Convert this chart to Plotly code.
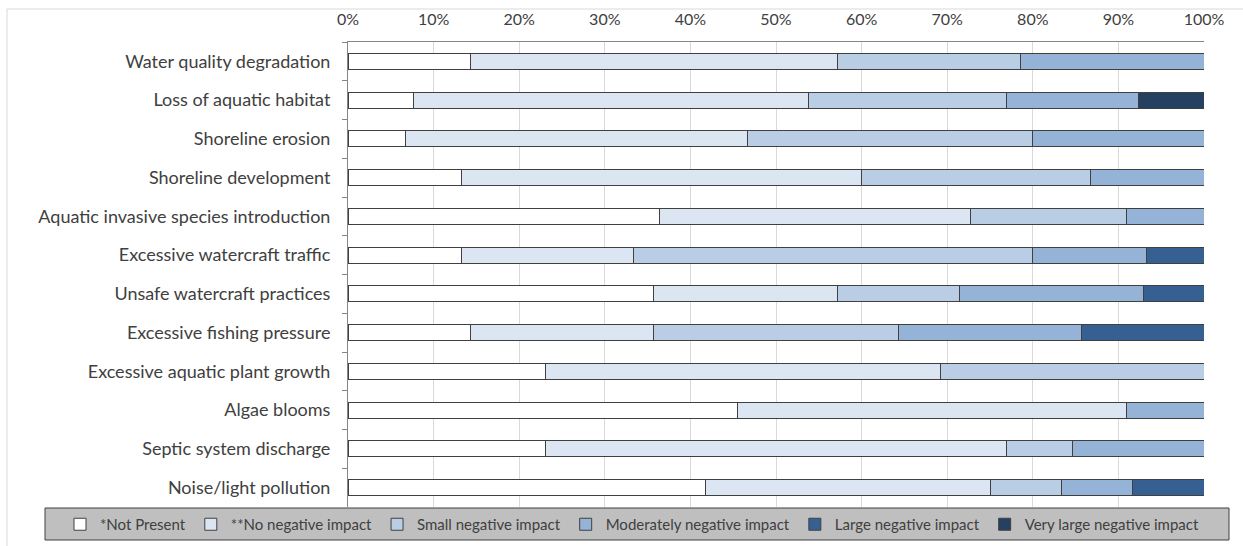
import plotly.graph_objects as go

categories = [
    "Water quality degradation",
    "Loss of aquatic habitat",
    "Shoreline erosion",
    "Shoreline development",
    "Aquatic invasive species introduction",
    "Excessive watercraft traffic",
    "Unsafe watercraft practices",
    "Excessive fishing pressure",
    "Excessive aquatic plant growth",
    "Algae blooms",
    "Septic system discharge",
    "Noise/light pollution",
]

not_present = [14.3, 7.7, 6.7, 13.3, 36.4, 13.3, 35.7, 14.3, 23.1, 45.5, 23.1, 41.7]
no_negative = [42.9, 46.2, 40.0, 46.7, 36.4, 20.0, 21.4, 21.4, 46.2, 45.5, 53.8, 33.3]
small_negative = [21.4, 23.1, 33.3, 26.7, 18.2, 46.7, 14.3, 28.6, 30.8, 0, 7.7, 8.3]
moderate_negative = [21.4, 15.4, 20.0, 13.3, 9.1, 13.3, 21.4, 21.4, 0, 9.1, 15.4, 8.3]
large_negative = [0, 0, 0, 0, 0, 6.7, 7.1, 14.3, 0, 0, 0, 8.3]
very_large_negative = [0, 7.7, 0, 0, 0, 0, 0, 0, 0, 0, 0, 0]

series_names = [
    "*Not Present",
    "**No negative impact",
    "Small negative impact",
    "Moderately negative impact",
    "Large negative impact",
    "Very large negative impact",
]
series_values = [not_present, no_negative, small_negative, moderate_negative,
                 large_negative, very_large_negative]
series_colors = ["#FFFFFF", "#DCE6F2", "#B9CDE5", "#95B3D7", "#366092", "#254061"]

FONT = "Lato"
TXT = "#404040"

# plot-area geometry (pixels) used to place decorative frame / legend box
L, R, T, B = 348, 1204, 42, 507
PW, PH = R - L, B - T

def px_x(v):
    return (v - L) / PW

def px_y(v):
    return (B - v) / PH

fig = go.Figure()
for name, vals, col in zip(series_names, series_values, series_colors):
    fig.add_trace(go.Bar(
        y=categories, x=vals, name=name, orientation="h",
        marker=dict(color=col, line=dict(color="#404040", width=1)),
    ))

fig.update_layout(
    width=1243, height=546,
    barmode="stack", barnorm="percent", bargap=0.59,
    plot_bgcolor="white", paper_bgcolor="white",
    margin=dict(l=L, r=1243 - R, t=T, b=546 - B, autoexpand=False),
    font=dict(family=FONT, size=18, color=TXT),
    xaxis=dict(
        side="top", range=[0, 100], dtick=10, ticksuffix="%",
        showgrid=True, gridcolor="#D9D9D9", gridwidth=1,
        showline=True, linecolor="#868686", linewidth=1,
        ticks="", zeroline=False, ticklabelstandoff=10,
        tickfont=dict(family=FONT, size=16, color=TXT),
    ),
    yaxis=dict(
        autorange="reversed", showgrid=False,
        showline=True, linecolor="#868686", linewidth=1,
        ticks="outside", tickson="boundaries", ticklen=5, tickcolor="#868686",
        ticklabelstandoff=13,
        tickfont=dict(family=FONT, size=18, color=TXT),
    ),
    legend=dict(
        orientation="h", x=px_x(60), xanchor="left",
        y=px_y(508), yanchor="top",
        bgcolor="rgba(0,0,0,0)", borderwidth=0,
        font=dict(family=FONT, size=15, color=TXT),
        traceorder="normal",
    ),
    shapes=[
        dict(type="rect", xref="paper", yref="paper",
             x0=px_x(7), x1=px_x(1300), y0=px_y(600), y1=px_y(9),
             line=dict(color="#D9D9D9", width=1), fillcolor="rgba(0,0,0,0)",
             layer="below"),
        dict(type="rect", xref="paper", yref="paper",
             x0=px_x(45), x1=px_x(1229), y0=px_y(540), y1=px_y(508),
             line=dict(color="#404040", width=1), fillcolor="#BFBFBF",
             layer="below"),
    ],
    showlegend=True,
)

fig.write_html("out.html", config={"displayModeBar": False},
               post_script="document.body.style.margin='0';")
